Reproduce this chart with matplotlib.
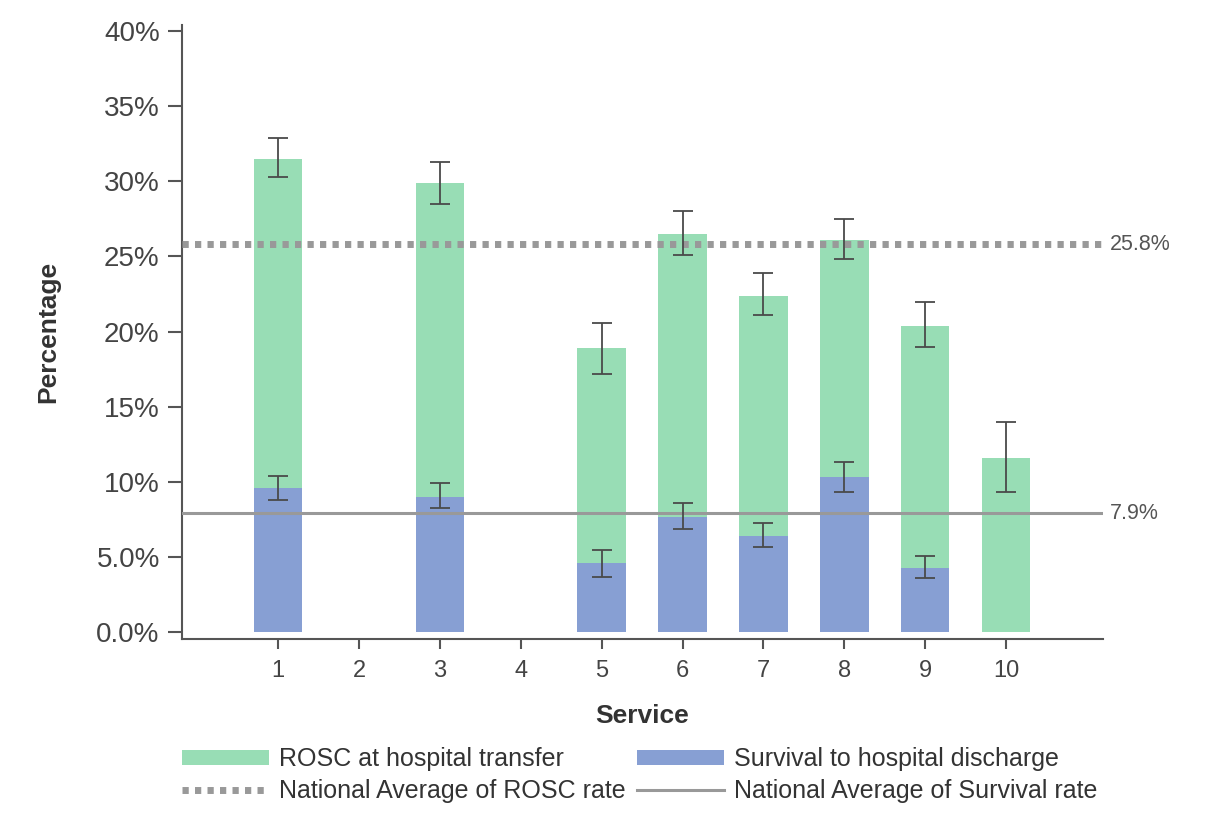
import numpy as np
import matplotlib.pyplot as plt
from matplotlib.ticker import FixedLocator

plt.rcParams['font.family'] = ['Liberation Sans', 'DejaVu Sans']

services = [1, 2, 3, 4, 5, 6, 7, 8, 9, 10]
rosc = [31.5, np.nan, 29.9, np.nan, 18.9, 26.5, 22.4, 26.1, 20.4, 11.6]
rosc_lo = [30.3, np.nan, 28.5, np.nan, 17.2, 25.1, 21.1, 24.8, 19.0, 9.3]
rosc_hi = [32.9, np.nan, 31.3, np.nan, 20.6, 28.0, 23.9, 27.5, 22.0, 14.0]
surv = [9.6, np.nan, 9.0, np.nan, 4.6, 7.65, 6.4, 10.3, 4.25, np.nan]
surv_lo = [8.8, np.nan, 8.25, np.nan, 3.7, 6.85, 5.65, 9.3, 3.6, np.nan]
surv_hi = [10.4, np.nan, 9.9, np.nan, 5.5, 8.6, 7.3, 11.3, 5.05, np.nan]
nat_rosc = 25.8
nat_surv = 7.9

green = '#98ddb5'
blue = '#879fd3'
grey = '#999999'
dark = '#555555'

x = np.array(services)
rosc = np.array(rosc)
surv = np.array(surv)

fig = plt.figure(figsize=(12.18, 8.14), dpi=100)
ax = fig.add_axes([0.1494, 0.2150, 0.7562, 0.7543])

b1 = ax.bar(x, rosc, width=0.6, color=green, zorder=2)
b2 = ax.bar(x, surv, width=0.6, color=blue, zorder=2)

l1 = ax.axhline(nat_rosc, color=grey, lw=5, ls=(0, (0.9, 0.9)), zorder=3)
l2 = ax.axhline(nat_surv, color=grey, lw=2.2, zorder=3)

yerr_r = [rosc - np.array(rosc_lo), np.array(rosc_hi) - rosc]
yerr_s = [surv - np.array(surv_lo), np.array(surv_hi) - surv]
ax.errorbar(x, rosc, yerr=yerr_r, fmt='none', ecolor='#4a4a4a', elinewidth=1.3, capsize=7,
            capthick=1.3, zorder=4)
ax.errorbar(x, surv, yerr=yerr_s, fmt='none', ecolor='#4a4a4a', elinewidth=1.3, capsize=7,
            capthick=1.3, zorder=4)

ax.text(1.007, nat_rosc, f'{nat_rosc}%', transform=ax.get_yaxis_transform(),
        va='center', ha='left', fontsize=15.5, color=dark)
ax.text(1.007, nat_surv, f'{nat_surv}%', transform=ax.get_yaxis_transform(),
        va='center', ha='left', fontsize=15.5, color=dark)

ax.set_xlim(-0.19, 11.2)
ax.set_ylim(-0.45, 40.4)
ax.set_xticks(services)
yt = [0, 5, 10, 15, 20, 25, 30, 35, 40]
ax.yaxis.set_major_locator(FixedLocator(yt))
ax.set_yticklabels(['0.0%', '5.0%', '10%', '15%', '20%', '25%', '30%', '35%', '40%'])

for s in ['top', 'right']:
    ax.spines[s].set_visible(False)
for s in ['left', 'bottom']:
    ax.spines[s].set_color(dark)
    ax.spines[s].set_linewidth(1.5)
ax.tick_params(axis='y', length=10, width=1.5, color=dark, labelsize=20, labelcolor='#444444', pad=6)
ax.tick_params(axis='x', length=7, width=1.5, color=dark, labelsize=17, labelcolor='#444444', pad=8)

ax.set_xlabel('Service', fontsize=19, fontweight='bold', color='#333333', labelpad=16)
ax.set_ylabel('Percentage', fontsize=19, fontweight='bold', color='#333333', labelpad=26)

ax.legend([b1, l1, b2, l2],
          ['ROSC at hospital transfer', 'National Average of ROSC rate',
           'Survival to hospital discharge', 'National Average of Survival rate'],
          loc='upper center', bbox_to_anchor=(0.497, -0.14), ncol=2, frameon=False,
          fontsize=18, handlelength=3.5, handleheight=0.55, columnspacing=0.45,
          handletextpad=0.4, labelspacing=0.3, labelcolor='#333333')

fig.savefig('out.png', dpi=100, facecolor='white')
